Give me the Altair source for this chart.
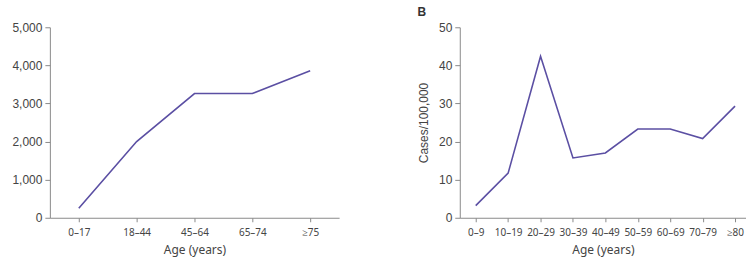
import json
import altair as alt
import pandas as pd

# Panel A: cases by age group (counts)
groups_a = ["0–17", "18–44", "45–64", "65–74", "≥75"]
cases_a = [250, 2000, 3260, 3260, 3860]

# Panel B: incidence per 100,000 by age decade
groups_b = ["0–9", "10–19", "20–29", "30–39", "40–49", "50–59", "60–69", "70–79", "≥80"]
rate_b = [3.2, 11.7, 42.4, 15.7, 17.0, 23.3, 23.3, 20.8, 29.3]

LINE = "#5b4fa3"
AXIS = "#8a8a8a"
LABEL = "#444444"
XFONT = "Noto Sans"
YFONT = "Liberation Sans"

df_a = pd.DataFrame({"age": groups_a, "cases": cases_a})
df_b = pd.DataFrame({"idx": list(range(len(groups_b))), "age": groups_b, "rate": rate_b})

x_axis_common = dict(
    domainColor=AXIS, tickColor=AXIS, tickSize=4, labelFont=XFONT, labelFontSize=10,
    labelColor=LABEL, labelPadding=6, titleFont=XFONT, titleFontSize=12,
    titleColor=LABEL, titleFontWeight="normal", titlePadding=7, grid=False, labelAngle=0,
)
y_axis_common = dict(
    domainColor=AXIS, tickColor=AXIS, tickSize=5, labelFont=YFONT, labelFontSize=12,
    labelColor=LABEL, labelPadding=3, titleFont=YFONT, titleFontSize=12,
    titleColor=LABEL, titleFontWeight="normal", grid=False,
)

left = alt.Chart(df_a).mark_line(color=LINE, strokeWidth=1.6).encode(
    x=alt.X("age:O", sort=groups_a, scale=alt.Scale(type="point", padding=0.5),
            axis=alt.Axis(title="Age (years)", **x_axis_common)),
    y=alt.Y("cases:Q", scale=alt.Scale(domain=[0, 5000], nice=False),
            axis=alt.Axis(title=None, values=[0, 1000, 2000, 3000, 4000, 5000],
                          format=",d", **y_axis_common)),
).properties(width=290, height=191, title=alt.TitleParams(" ", fontSize=12))

label_expr = json.dumps(groups_b) + "[datum.value]"
right = alt.Chart(df_b).mark_line(color=LINE, strokeWidth=1.6).encode(
    x=alt.X("idx:Q", scale=alt.Scale(domain=[-0.492, 8.338], nice=False, zero=False),
            axis=alt.Axis(title="Age (years)", values=list(range(len(groups_b))),
                          labelExpr=label_expr, **x_axis_common)),
    y=alt.Y("rate:Q", scale=alt.Scale(domain=[0, 50], nice=False),
            axis=alt.Axis(title="Cases/100,000", values=[0, 10, 20, 30, 40, 50],
                          titlePadding=8, **y_axis_common)),
).properties(
    width=287, height=191,
    title=alt.TitleParams("B", anchor="start", frame="bounds", fontSize=12,
                          font=YFONT, fontWeight="bold", color="#333333", offset=2),
)

chart = alt.hconcat(left, right, spacing=121, bounds="flush").properties(
    padding={"left": 11, "top": 4, "right": 0, "bottom": 2},
).configure_view(stroke=None)

chart.save("out.html", embed_options={"renderer": "svg", "actions": False})
